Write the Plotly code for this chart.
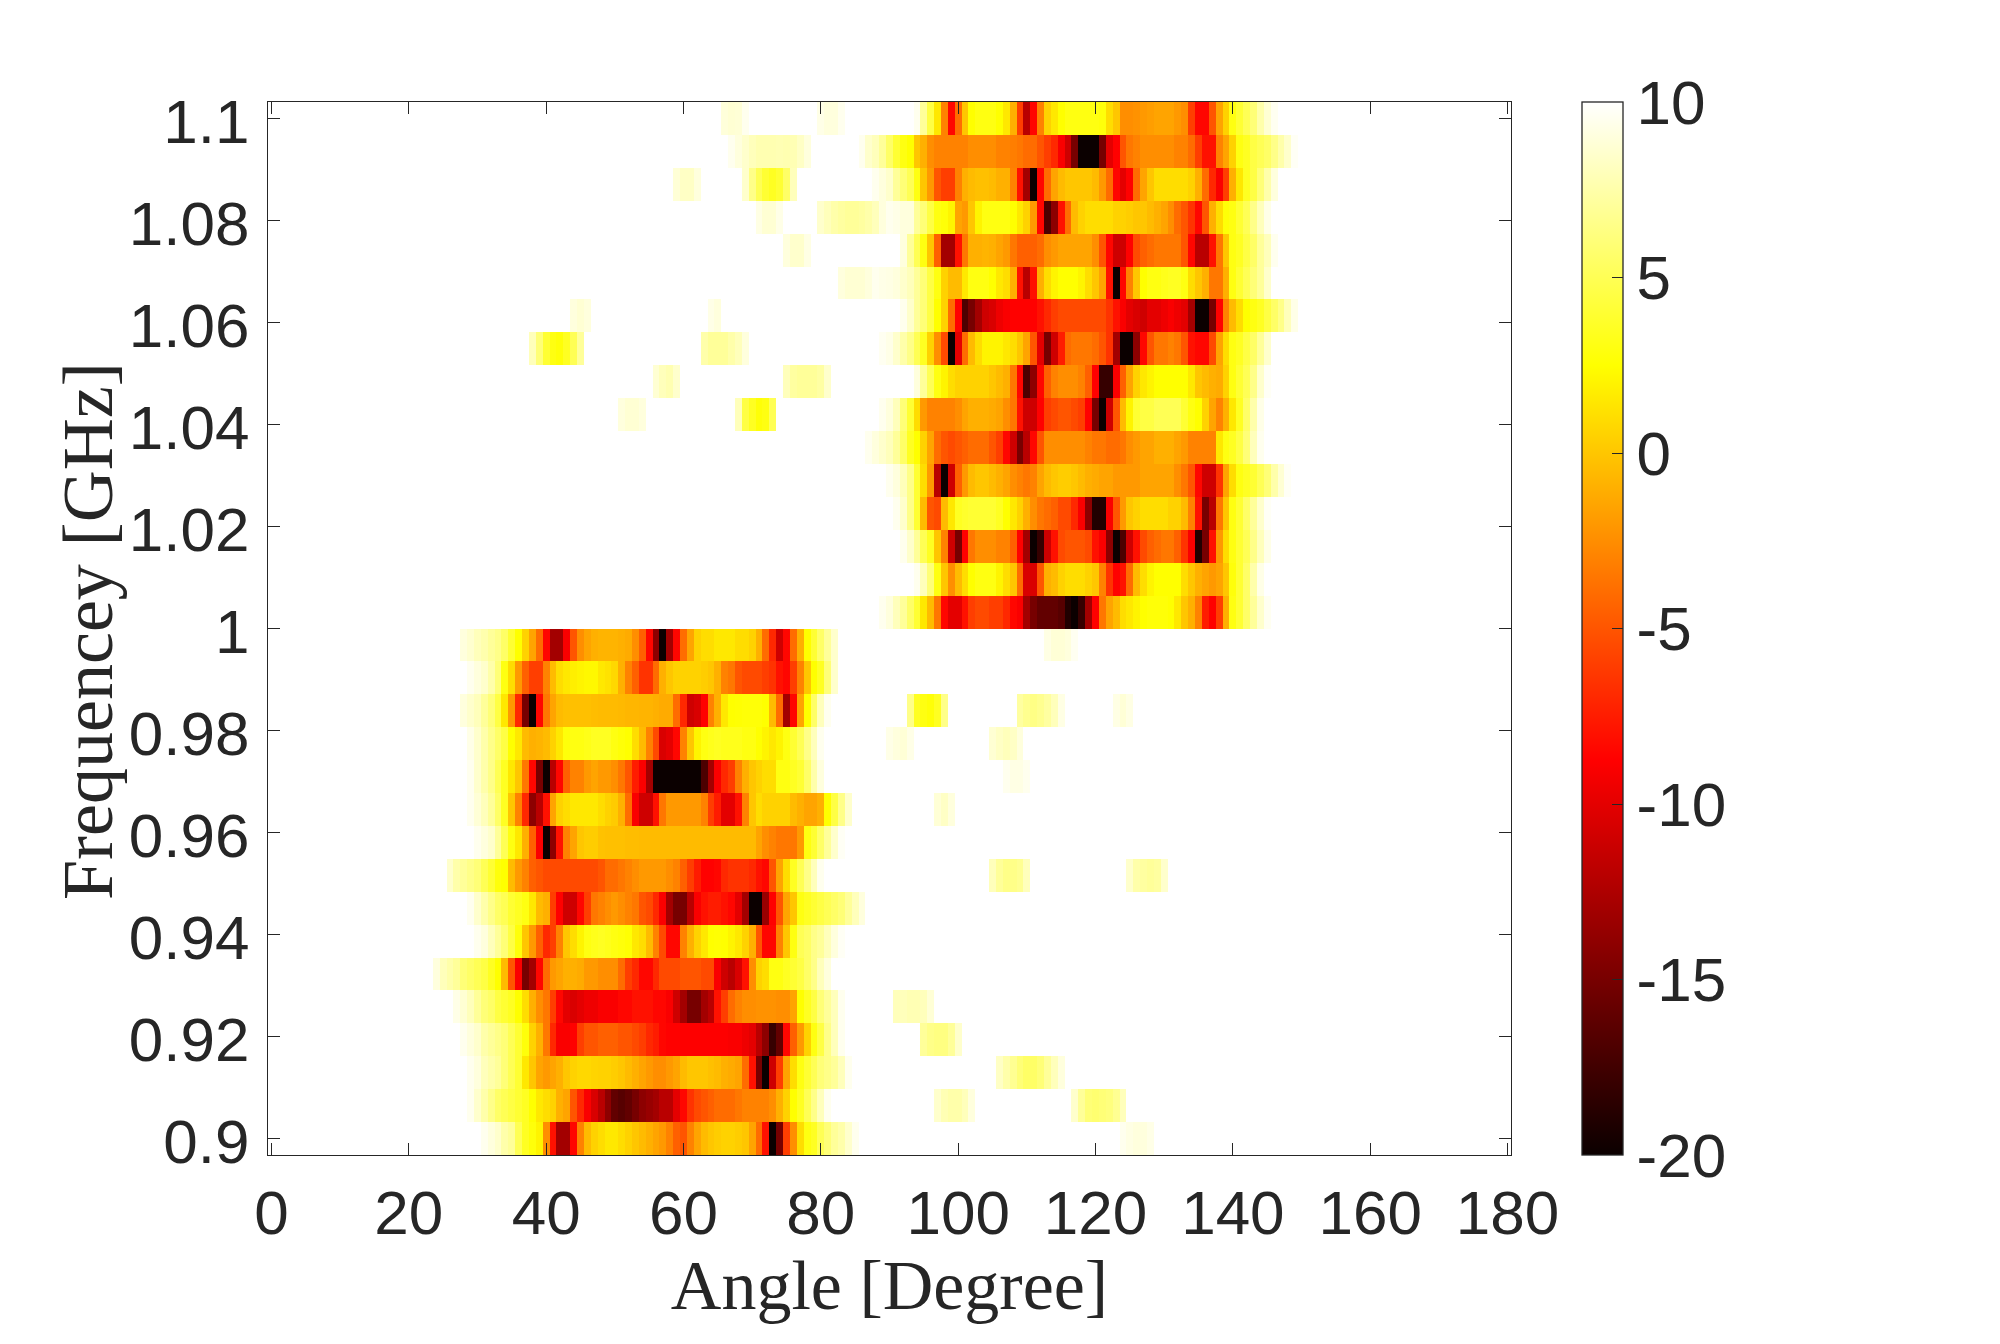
import numpy as np
import plotly.graph_objects as go

# Beam power in dB over steering angle (1 degree bins) and frequency (32 bins).
# Each row: (first angle, levels from that angle on). Bins left out sit at the 10 dB ceiling.
row_00 = [(31, [9.5,9,8.5,7.5,7,5,3.5,2.8,2,-2.5,-8,-13,-13,-8.5,-3,-0.5,0.5,1,1.5,1.5,1,0.5,0,-0.5,-1,-1.5,-2,-3,-4.5,-5,-3,-1.5,-0.5,0,0.3,0.5,0.5,0.3,0,-1.5,-4,-8,-20,-15,-6,-2.5,1,3,3.5,5,6,7,7.5,8.5,9.5]),
          (124, [9.5,9.2,9,9,9.3])]
row_01 = [(29, [9.5,8.5,7.5,6.5,5.5,5,4.5,4,3.5,2.5,1.5,1,0.5,-1,-1.5,-5,-7,-9,-10.5,-12,-14,-16,-16.5,-16,-15,-14,-13.5,-13,-12,-12,-10,-8.5,-6.5,-5.5,-5,-4.5,-4,-4,-4,-3.5,-3,-3,-3,-3,-2.5,-1,0.5,2.5,3.5,5,6.5,8,9.5]),
          (97, [8.5,7.8,7.5,7.5,8,9]), (117, [8.5,7,6,5.8,6,6.2,6.8,8])]
row_02 = [(29, [9.5,9,8,7.5,7,6,5,4,1.5,0,-1.5,-2,-1.5,-1,0,0.5,0.8,0.8,0.6,0.5,0.5,0.3,0,-0.5,-1,-1.5,-2,-2.5,-2.5,-2,-1.5,-0.5,0,0,0,-0.3,-0.5,-1,-1.2,-1.5,-4,-8,-15,-20,-11,-6,-1.5,1,3,4,5,6,6.5,7,8,9.5]),
          (106, [8.3,7.5,6.8,6,5.5,5.5,6,7,8,9])]
row_03 = [(28, [9.5,9,8.5,7.5,7,6.5,6,5,4,2.8,0.5,-1,-3.5,-7,-9,-9,-8.7,-6,-5,-5,-4.5,-4.5,-4.5,-5,-5,-5.5,-6,-7,-7.5,-8.5,-8.7,-8.7,-8.8,-8.8,-8.8,-8.8,-8.8,-8.8,-8.8,-9,-9,-9.5,-10,-12,-14,-18,-16,-8.5,-4.5,-2,0.5,3,4.5,6.5,8,9.5]),
          (95, [7,6.5,6.3,6.3,7,8.5])]
row_04 = [(27, [9.3,8.7,8,7,6,5.5,4.5,4,3.5,2.5,1,-1,-2.5,-3.5,-6,-8.5,-10,-10.5,-10,-9.5,-9.5,-9,-9,-9,-8.5,-8.5,-8,-8,-8,-8.5,-8.5,-9,-11,-13,-15,-15,-13,-12,-8,-6,-4,-3,-2.5,-2.5,-2.3,-2.3,-2.3,-2.5,-2.5,-1.5,2.5,3.5,4.5,6,7,8,9.5]),
          (91, [8,8,7.8,7.8,8,8.8])]
row_05 = [(24, [9,8,7.5,7,6,5.5,5,4.5,3.5,2.5,-0.5,-5,-9,-15,-13,-8.5,-4,-2,-1.5,-1,-1,-1.2,-2,-2,-2.5,-2.5,-2.5,-4,-6,-7,-8.5,-8.5,-7,-5.5,-5.5,-5.5,-5,-5,-5,-5.5,-5.5,-9,-11,-12,-10.5,-8,-2.5,0.5,1,3,3,3.5,4,4.5,5.5,6.5,8,9])]
row_06 = [(30, [9.5,9,8,7,6,4.5,2.8,0,-2,-4.5,-7,-6,-3,0,1,2,3,3.3,3.5,3.3,3,2.8,2.6,1.5,1,-0.5,-3,-5.5,-8.5,-8.5,-3,-1,0.5,1.5,2.5,2.6,2.5,2,1.5,0.5,-1,-5,-8.5,-8.5,-3,0,3,5,5.5,6.5,7,8,9,9.7])]
row_07 = [(29, [9.5,8.5,7.5,6.5,5.5,5,4,3.5,3,1.5,-0.5,-1,-6,-8.7,-11,-11,-8.5,-6,-3.5,-3,-2.5,-2,-2.5,-3,-3.5,-5,-5.5,-7,-9,-13,-15,-15,-12,-9,-8,-7.5,-7.5,-8,-8.5,-10,-13,-20,-20,-13.5,-8.7,-5,-1.5,0,3,3.5,4,4.5,5,5.5,6,7,8,9])]
row_08 = [(26, [8.5,7.5,7,6.5,6,5,4,2.8,2.5,-0.5,-2,-3,-4.5,-5,-5.5,-5.5,-5.5,-5.5,-5.5,-5.5,-5.5,-5.5,-5,-4,-4,-3.5,-3,-2.5,-2,-2,-2,-2,-2.5,-3,-4.5,-6,-7.5,-8.7,-8.7,-8.5,-7,-6.5,-6.5,-6.5,-7,-8,-8.5,-5,-1.5,1,3.5,5,6.5,8,9.5]),
          (105, [8,7,6.5,6.5,6.8,8]), (125, [8.5,7.5,7.2,7,7.2,8.5])]
row_09 = [(30, [9.5,9,8.5,7,5,3,1.5,-1,-4.5,-9,-20,-14,-8,-3,-1.5,0,0.3,0.3,-0.2,-0.3,-0.3,-0.3,-0.4,-0.4,-0.5,-0.5,-0.5,-0.5,-0.5,-0.5,-0.5,-0.5,-0.5,-0.5,-0.5,-0.5,-0.5,-0.5,-0.5,-0.5,-0.5,-1.5,-2.5,-3,-3.5,-3.5,-3.5,-2,3,4,5.5,7,8.5,9.7])]
row_10 = [(29, [9.5,8.8,8,7,5.5,3.5,0,-3,-7,-14,-12,-8,-1.5,0.5,1,1.5,1.5,1.5,1.5,1,0.5,0.2,-1,-4,-9,-11,-11,-8,-3.5,-2,-2,-2,-2,-2,-3,-6,-7.5,-10,-10,-8,-3,0,1,0.5,0.5,0.5,0.5,-0.5,-1,-1.5,-1.5,-1,2.5,4.5,6.5,8.5]),
          (97, [8.8,8.3,9])]
row_11 = [(29, [9.5,8.5,7.5,6.5,5,3.5,1.5,0,-3.5,-8.5,-15,-20,-12,-8.5,-4.5,-3,-3,-2,-1.5,-2,-2,-2.5,-3.5,-5,-7.5,-9,-13,-20,-20,-20,-20,-20,-20,-20,-17,-13,-9,-7,-6,-3,-1,0,0.5,1,1,3,3,3.5,4,5.5,7.5,9]),
          (107, [9.5,9.2,9.2,9.5])]
row_12 = [(29, [9.3,8.5,7.5,6.5,5.5,4.5,2.5,1.5,-0.5,-1,-0.8,-0.5,0.5,1.5,2.8,3,3,3.2,3.5,3.5,3.5,3,2.7,2.5,1,-0.5,-3,-5.5,-10.5,-10,-8.5,-3,0,2,3,3.3,3.5,3.3,3.3,3.3,3,3,2.5,2,1.5,2,3,4,5,6.5,8,9.5]),
          (90, [9.3,9,8.8,9.3]), (105, [8.7,8.3,8,8.3,9])]
row_13 = [(28, [9,8.5,8,7,6,4.5,1.5,-2,-7,-15,-20,-8.5,-3.5,-1.5,-0.5,-0.3,-0.3,-0.3,-0.3,-0.4,-0.5,-0.5,-0.5,-0.6,-0.7,-0.7,-0.8,-0.8,-1,-1.2,-1.2,-4,-7,-11,-10.5,-8.7,-3,-1,1.5,2.5,2.6,2.7,2.7,2.7,2.5,-0.5,-4,-13,-8.5,-1.5,2.5,5.5,8,9.5]),
          (93, [6.5,3.5,3,2.7,3.5,6.5]), (109, [7.2,6.7,6.4,6.7,7.2,8,9.2]), (123, [9.2,8.8,9.2])]
row_14 = [(29, [9.5,9,8.5,7.5,6,3,1,-2,-4.5,-6,-6,-3,-0.5,1,1.5,1.8,2,2.2,2.2,1.5,1.2,0.8,-1,-3,-4.5,-6.5,-6.5,-4,-1,0,0.5,0.5,0.5,0.5,0.3,0,-1,-3,-3.5,-5,-5.5,-5.5,-5.5,-6,-6.5,-8,-8.5,-6,-3,0,2.5,3.5,6,8.5])]
row_15 = [(28, [9,8.6,8,7.6,7,6.5,5.5,4,2.5,0.5,-1.5,-4,-8.5,-13,-13,-9,-5,-2.5,-1.5,-1,-0.8,-0.8,-0.8,-1,-1.2,-2.5,-4.5,-8.5,-14,-20,-13,-8.5,-4,-1.5,0.5,1,1,1.5,1.5,1.5,1,1,0.5,-1,-4,-7,-11,-8.5,-4,-1,2.5,4,5.5,7,8.5]),
          (113, [9.2,8.8,8.8,9,9.6])]
row_16 = [(89, [9.5,9,8,7,5.5,4,1.5,-0.5,-3.5,-8.5,-10,-10,-8,-6,-5.5,-5.5,-6,-6,-7,-8.5,-9,-13,-15,-16,-16,-16,-16.5,-19,-20,-18,-13,-8.7,-3.5,-1.5,-0.5,1,1.5,2,2.5,2.7,2.7,2.7,2.5,1.5,0,-1,-3,-7.5,-8.7,-6,-1,3,4,5.5,7,8.5,9.6])]
row_17 = [(94, [9.5,8,6,3,0,-2.5,-0.5,1,2.5,3,3,3,2,1,0,-4,-10.5,-10.5,-5,-1,-0.5,0.5,1,1,1,0.5,0,-3,-6.5,-8.7,-8,-4,-0.5,1,2,2.5,2.5,2.5,2.5,1,0,-1,-1.5,-2,-1.5,0,2.8,4,5.5,7.5,9.3])]
row_18 = [(92, [9.5,8.5,7,5,3.5,0,-3,-11,-15,-8.7,-3.5,-2.5,-2.5,-2.5,-3,-3,-4.5,-8.7,-13,-20,-18,-11,-8,-5.5,-5,-5,-5,-5.5,-8,-9,-14,-20,-17,-11,-8,-5.5,-4.5,-4,-3.5,-3.5,-4.5,-6.5,-9,-19,-15,-8,-2,1,3,4,5,6.5,8,9.3])]
row_19 = [(91, [9.5,8.5,6.5,4,-0.5,-5,-5.5,-0.5,1.5,3.5,3.8,4,4,4,4,3.5,2.5,1.5,0.5,-1,-2.5,-3.5,-4,-4.5,-5.5,-5.5,-7,-9,-14,-19,-19,-9,-5,-2,0,0.5,1,1,1,1,0.5,0.5,-0.5,-3,-8,-15,-12,-3.5,0,3,4,5.5,7,8.5,9.7])]
row_20 = [(90, [9.5,9,8,6.5,4,1,-2,-12,-20,-11,-4.5,-2,-0.5,0,0,-0.5,-1,-1.5,-2.5,-3,-3.5,-3,-1.5,-0.5,0,0.3,0.3,0,-0.5,-1,-1.2,-1.5,-1.5,-2,-2,-2,-2,-1.5,-1.5,-1.5,-1.5,-1.5,-2.5,-3.5,-5,-8.5,-11,-11,-6.5,-1.5,1,3,3.5,4,5,6,7.5,8.7,9.7])]
row_21 = [(87, [9.5,9,8.5,8,7,5.5,3.5,2.5,0.5,-1.5,-4,-5,-5.5,-5,-4.5,-4,-4,-4,-5,-6,-8.5,-11,-15,-12,-8.5,-5,-2.5,-2.5,-2.5,-2.5,-2.5,-2.5,-3,-3.5,-3.5,-4,-4,-3.5,-2.5,-2,-1.5,-1.5,-1,-1,-1,-1.5,-2,-3,-3,-3,-3,1.5,3,3.5,4.5,6,8,9.5])]
row_22 = [(51, [9,8.7,8.7,9]), (68, [8,4.5,3.5,2.7,3,5]),
          (89, [9.5,9,8,6,4,1,-2,-3,-3,-3,-3,-2.5,-1.5,-1,-1,-1,-1.2,-1.5,-2.5,-3.5,-8,-11,-11,-8.7,-6,-5.5,-5,-5,-5.5,-6,-8.7,-15,-20,-11,-5,-0.5,2,4,4.5,4.5,5,5,5,5,4,3,2.5,0.5,-1.5,-3,-1,1.5,3.5,5.5,7.5,9.3])]
row_23 = [(56, [8.7,8,7.7,8.5]), (75, [8,7.2,7,7,7,7.3,8.5]),
          (94, [9,7,5,3,2,1,0.5,0.5,0.5,0.5,0.5,0,-0.5,-1,-3.5,-8.5,-17,-14,-8.5,-4.5,-3,-2.5,-2.5,-2.5,-3,-4.5,-8.7,-18,-18,-9,-4.5,-1.5,0.5,1.5,2,2.5,2.5,2.5,2.5,2.5,1.5,0,-0.5,-1,-1.2,0.5,3,4,5,6.5,8.5,9.7])]
row_24 = [(38, [8,6,4,3,2.7,3.5,5,7]), (63, [7.5,7,7,7,7.5,8,9]),
          (89, [9.6,9.3,8.5,7.5,6.5,5,3.5,0.5,-2.5,-5.5,-20,-10,-4,-0.5,1,2,2,2,1.5,1,0,-1.5,-5,-10,-15,-11,-7.5,-4,-3.5,-3.5,-3.5,-4,-5,-6.5,-13,-20,-20,-14,-8.5,-5,-3.5,-3.5,-3,-3.5,-5,-8,-8.5,-8.5,-5.5,-1.5,1,3,3.5,4.5,5.5,7,8.5])]
row_25 = [(44, [9,8.7,9]), (64, [9.3,9]),
          (92, [9.5,8.5,7,6,4.5,2.5,0.5,-4,-8.7,-17,-15,-13,-11,-10.5,-9.5,-9,-8.7,-8.7,-8.7,-8.7,-8,-7,-6,-5.5,-5.5,-5.5,-5.5,-5.5,-5.5,-5.5,-6.5,-8,-9,-10,-10.5,-11,-10,-10,-9.5,-9,-9.5,-10,-13,-20,-20,-15,-8.7,-3,-0.5,1,2.5,3,3.5,4.5,5.5,6.5,8,9.3])]
row_26 = [(83, [9,8.7,8.7,8.7,9,9.5,9.3,9.2,9,8.5,8,7,6,4.5,3,0.5,-0.5,-0.5,1.5,3,3,3,2.5,1.5,1,-1,-8,-12,-8,-1,1,2,2.5,2.5,2.5,2,1,0,-1.5,-8,-20,-8.5,-3,0,2.5,3,3,3.3,3.5,3.5,3,1,0,-1,-3.5,-3.5,-1,3,4,5,6,7,8.5])]
row_27 = [(75, [9,8.5,8.5,9.2]),
          (92, [9,7,5,3,0,-4.5,-13,-13,-8,-3.5,-1,-1,-0.8,-1,-1.5,-2,-3.5,-4.5,-4.5,-4.5,-4,-2.5,-2,-1.5,-1.5,-1.5,-1.5,-1.5,-2.5,-5,-8.5,-11,-11,-8.7,-5.5,-4.5,-4,-3.5,-3.5,-3.5,-3.5,-5,-8.5,-12,-12,-8,-3.5,0,3,3.5,4.5,5.5,7,8,9.5])]
row_28 = [(71, [9.2,8.7,8.7,9.3]),
          (80, [8.5,8,7.5,7.2,7,7,7.2,7.5,8,9,9.5,9.3,9,9,7,6,4.5,3,2.7,2,-1.5,-2,0,2,3,3,3,3,2.5,1.5,0.5,-2,-8.5,-17,-14,-8,-4,-0.5,0.5,1,1,1,1,0.5,0.5,0.3,0,0,-0.5,-1,-1.5,-2.5,-4,-5,-6.5,-8.5,-5,-1,1,2.7,3,4,5,6.5,8,9.3])]
row_29 = [(59, [8.8,8.3,8.3,9]), (69, [8.5,6.5,5,4,3.5,4,5.5,8]),
          (88, [9.5,9,8.5,7,6,5,3,0,-2,-5,-6,-6,-3,-1,-0.5,-0.3,-0.3,-0.5,-1,-1,-3,-8,-13,-20,-8.5,-4,-1.5,-0.5,0,0,0,0,-0.5,-2,-4,-8.5,-10,-8.7,-4,-1.5,0,1,1,1,1,1,0.5,-1,-4,-7,-9,-6,-1,1.5,3.5,4.5,6,7.5,9])]
row_30 = [(67, [9.5,9,8.5,8,7.7,7.7,7.7,7.8,7.7,7.8,8.3,9]),
          (86, [9.5,8.5,8,7,5.5,4,3,2.5,0,-1,-2.5,-3,-3,-3,-3,-3,-2.5,-2.5,-2.5,-2.5,-3,-3,-3.2,-3.5,-4,-4,-5,-6,-7,-9,-11,-15,-20,-20,-20,-15,-10,-8.7,-5,-3.5,-3,-2.5,-2.5,-2.5,-2.5,-2.5,-3,-3,-4,-6,-8,-8,-3,-1.5,0.5,3,3.5,4.5,5,5.5,6.5,7.5,8.5,9.7])]
row_31 = [(66, [8.9,8.7,8.8,9.5]), (80, [9.3,9,9,9.5]),
          (94, [9.5,7,4.5,1.5,-3,-8.5,-4,0,2.5,3,3,3,2.5,1.5,-1,-6,-12,-8.5,-3,0.5,1.5,2.5,3,3,3,3,3,2.8,1,0,-2.5,-2.5,-2.3,-2,-1.8,-1.5,-1.5,-1.5,-2,-2.5,-6,-8.5,-8.5,-5,-1.5,0.5,3,4,5,6,7.5,8.7,9.6])]

freq_rows = [row_00, row_01, row_02, row_03, row_04, row_05, row_06, row_07,
             row_08, row_09, row_10, row_11, row_12, row_13, row_14, row_15,
             row_16, row_17, row_18, row_19, row_20, row_21, row_22, row_23,
             row_24, row_25, row_26, row_27, row_28, row_29, row_30, row_31]

angles = np.arange(0, 181)
frequencies = np.linspace(0.9, 1.1, 32)
z_ceiling = 10

x_ticks = list(range(0, 181, 20))
y_ticks = [0.9, 0.92, 0.94, 0.96, 0.98, 1.0, 1.02, 1.04, 1.06, 1.08, 1.1]
y_tick_labels = ["0.9", "0.92", "0.94", "0.96", "0.98", "1", "1.02", "1.04", "1.06", "1.08", "1.1"]
bar_ticks = [-20, -15, -10, -5, 0, 5, 10]
bar_tick_labels = ["-20", "-15", "-10", "-5", "0", "5", "10"]

power = np.full((len(frequencies), len(angles)), float(z_ceiling))
for i, segments in enumerate(freq_rows):
    for start, levels in segments:
        power[i, start:start + len(levels)] = levels

INK = "#262626"
W, H = 2000, 1344
left, right, top, bottom = 268, 1511, 102, 1155
half_row = 0.2 / 31 / 2

# MATLAB-style "hot" map
hot = [[0, "#0b0000"], [0.375, "#ff0000"], [0.75, "#ffff00"], [1, "#ffffff"]]

fig = go.Figure(go.Heatmap(
    x=angles, y=frequencies, z=power, zmin=-20, zmax=10,
    colorscale=hot, zsmooth=False,
    colorbar=dict(
        x=(1581.5 - left) / (right - left), xanchor="left", xpad=0,
        y=0, yanchor="bottom", ypad=0,
        thickness=41, thicknessmode="pixels",
        len=bottom - top, lenmode="pixels",
        tickvals=bar_ticks, ticktext=bar_tick_labels,
        ticks="inside", ticklen=11, tickwidth=1, tickcolor=INK,
        tickfont=dict(family="Liberation Sans", size=62, color=INK),
        outlinecolor=INK, outlinewidth=1.3,
    ),
))

axis_common = dict(
    showgrid=False, zeroline=False, showline=True, linecolor=INK, linewidth=1.3,
    mirror="ticks", ticks="inside", ticklen=12, tickwidth=1, tickcolor=INK,
    tickfont=dict(family="Liberation Sans", size=62, color=INK),
)

fig.update_layout(
    width=W, height=H,
    margin=dict(l=left, r=W - right, t=top, b=H - bottom, autoexpand=False),
    paper_bgcolor="white", plot_bgcolor="white",
    xaxis=dict(
        range=[-0.5, 180.5], tickvals=x_ticks, tickangle=0, ticklabelstandoff=3, **axis_common,
        title=dict(text="Angle [Degree]", standoff=13,
                   font=dict(family="Liberation Serif", size=70, color=INK)),
    ),
    yaxis=dict(
        range=[0.9 - half_row, 1.1 + half_row], tickvals=y_ticks, ticktext=y_tick_labels,
        ticklabelstandoff=5, ticklabelshift=3, **axis_common,
    ),
    annotations=[dict(
        text="Frequencey [GHz]", textangle=-90, showarrow=False,
        xref="paper", yref="paper", xanchor="center", yanchor="middle",
        x=(88 - left) / (right - left), y=(bottom - 631) / (bottom - top),
        font=dict(family="Liberation Serif", size=72, color=INK),
    )],
)

fig.write_html("out.html")
